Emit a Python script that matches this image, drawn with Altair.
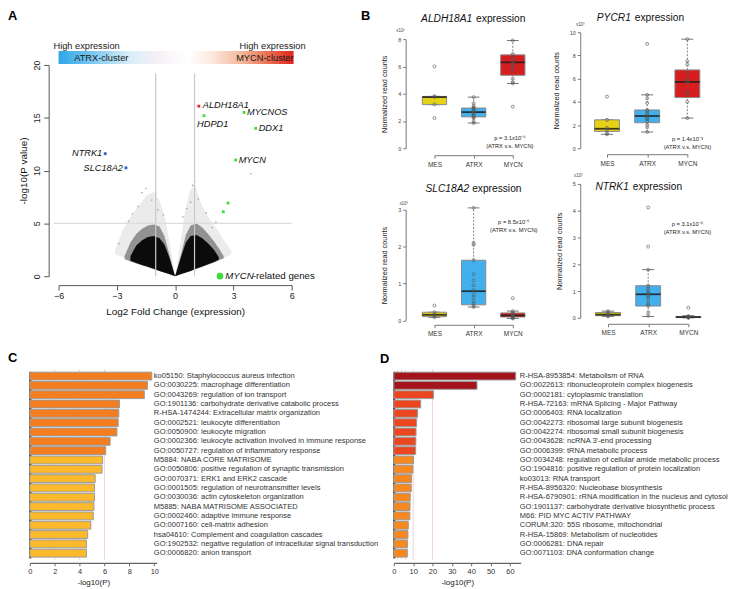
import altair as alt
import pandas as pd

FONT = "Liberation Sans"
W, H = 721, 573

# ======================= Panel A : volcano plot =======================
gene_name = ["ALDH18A1", "HDPD1", "MYCNOS", "DDX1", "MYCN", "NTRK1", "SLC18A2", "", ""]
gene_lfc = [1.22, 1.49, 3.55, 4.15, 3.12, -3.60, -2.53, 2.72, 2.48]
gene_logp = [16.1, 15.2, 15.5, 14.0, 11.0, 11.6, 10.26, 6.92, 6.10]
gene_group = ["top", "mycn", "mycn", "mycn", "mycn", "atrx", "atrx", "mycn", "mycn"]

sparse_lfc = [-2.9, -2.4, -1.9, -1.7, -1.5, -1.2, -0.9, -0.6, 0.6, 0.9, 1.0, 1.2, 1.6, 2.1, 3.9,
              -2.2, -1.0, 0.4, 0.8, 1.9]
sparse_logp = [3.1, 5.2, 6.6, 7.9, 8.3, 7.2, 6.3, 5.8, 6.4, 8.6, 9.0, 7.3, 6.0, 5.1, 9.7,
               5.9, 7.8, 5.6, 7.0, 4.6]

# outline of the dense point cloud, three density levels
halo_l_x = [-3.1, -2.7, -2.3, -1.9, -1.5, -1.1, -0.8, -0.5, -0.25, 0.0]
halo_l_hi = [2.4, 4.4, 5.6, 6.6, 7.6, 8.0, 7.2, 5.4, 2.8, 0.0]
halo_l_lo = [2.1, 1.8, 1.5, 1.2, 0.95, 0.7, 0.5, 0.3, 0.15, 0.0]
halo_r_x = [0.0, 0.25, 0.5, 0.75, 1.0, 1.3, 1.7, 2.1, 2.5, 2.9]
halo_r_hi = [0.0, 2.8, 6.0, 8.0, 8.8, 7.0, 5.6, 4.6, 3.4, 2.4]
halo_r_lo = [0.0, 0.12, 0.28, 0.45, 0.6, 0.8, 1.05, 1.35, 1.7, 2.1]

mid_l_x = [-2.6, -2.3, -2.0, -1.7, -1.4, -1.1, -0.8, -0.55, -0.3, 0.0]
mid_l_hi = [1.9, 3.2, 4.0, 4.5, 4.8, 4.9, 4.7, 3.8, 2.1, 0.0]
mid_l_lo = [1.6, 1.4, 1.2, 1.0, 0.85, 0.65, 0.48, 0.33, 0.18, 0.0]
mid_r_x = [0.0, 0.3, 0.55, 0.8, 1.1, 1.4, 1.7, 2.0, 2.3, 2.5]
mid_r_hi = [0.0, 2.0, 3.9, 4.8, 5.0, 4.6, 4.0, 3.3, 2.5, 1.9]
mid_r_lo = [0.0, 0.18, 0.33, 0.5, 0.7, 0.9, 1.1, 1.3, 1.55, 1.7]

core_l_x = [-2.3, -2.0, -1.7, -1.4, -1.1, -0.8, -0.55, -0.3, 0.0]
core_l_hi = [1.9, 2.9, 3.4, 3.7, 3.8, 3.6, 3.0, 1.8, 0.0]
core_l_lo = [1.45, 1.25, 1.05, 0.9, 0.7, 0.5, 0.35, 0.2, 0.0]
core_r_x = [0.0, 0.3, 0.55, 0.8, 1.1, 1.4, 1.7, 2.0, 2.25]
core_r_hi = [0.0, 1.8, 3.2, 3.8, 3.9, 3.6, 3.1, 2.5, 1.8]
core_r_lo = [0.0, 0.2, 0.35, 0.5, 0.72, 0.92, 1.12, 1.35, 1.55]

fc_cut = [-1, 1]
p_cut = [5]

# ======================= Panel B : box plots =======================
groups = ["MES", "ATRX", "MYCN"]

aldh_pts = {"MES": [6.0, 3.82, 3.76, 3.22, 2.22],
            "ATRX": [3.75, 3.3, 3.1, 3.0, 2.95, 2.85, 2.75, 2.65, 2.55, 2.45, 2.35, 2.28, 2.2, 1.95, 1.85],
            "MYCN": [7.9, 6.9, 6.7, 6.5, 6.35, 6.2, 6.05, 5.9, 5.7, 5.1, 4.85, 4.75, 3.05]}
aldh_box = {"MES": [3.2, 3.2, 3.75, 3.8, 3.8], "ATRX": [1.85, 2.3, 2.65, 2.95, 3.75],
            "MYCN": [4.75, 5.35, 6.3, 6.85, 7.9]}

pycr_pts = {"MES": [4.45, 2.45, 1.75, 1.6, 1.3, 1.2],
            "ATRX": [9.0, 4.6, 4.3, 3.9, 3.3, 3.2, 3.0, 2.85, 2.7, 2.6, 2.5, 2.3, 2.0, 1.8, 1.4],
            "MYCN": [9.4, 7.5, 7.2, 6.5, 6.0, 5.8, 5.7, 4.8, 4.7, 4.0, 2.6]}
pycr_box = {"MES": [1.2, 1.45, 1.68, 2.45, 2.45], "ATRX": [1.4, 2.2, 2.78, 3.3, 4.6],
            "MYCN": [2.6, 4.37, 5.72, 6.75, 9.4]}

slc_pts = {"MES": [0.4, 0.22, 0.16, 0.12, 0.08],
           "ATRX": [3.05, 2.1, 2.05, 1.63, 1.25, 1.08, 0.95, 0.82, 0.7, 0.62, 0.52, 0.45, 0.4, 0.36],
           "MYCN": [0.6, 0.25, 0.2, 0.18, 0.15, 0.12, 0.1, 0.08, 0.06, 0.05]}
slc_box = {"MES": [0.08, 0.1, 0.15, 0.22, 0.22], "ATRX": [0.36, 0.42, 0.79, 1.63, 3.05],
           "MYCN": [0.05, 0.09, 0.13, 0.2, 0.25]}

ntrk_pts = {"MES": [0.25, 0.18, 0.12, 0.08, 0.05],
            "ATRX": [4.12, 2.66, 1.8, 1.2, 1.1, 1.02, 0.95, 0.9, 0.82, 0.75, 0.62, 0.5, 0.45, 0.2, 0.08],
            "MYCN": [0.38, 0.06, 0.05, 0.04, 0.03, 0.03, 0.02, 0.02, 0.01, 0.01]}
ntrk_box = {"MES": [0.05, 0.08, 0.12, 0.2, 0.25], "ATRX": [0.05, 0.44, 0.88, 1.2, 1.8],
            "MYCN": [0.0, 0.01, 0.03, 0.05, 0.08]}

# ======================= Panels C / D : enrichment bars =======================
c_terms = ["ko05150: Staphylococcus aureus infection",
           "GO:0030225: macrophage differentiation",
           "GO:0043269: regulation of ion transport",
           "GO:1901136: carbohydrate derivative catabolic process",
           "R-HSA-1474244: Extracellular matrix organization",
           "GO:0002521: leukocyte differentiation",
           "GO:0050900: leukocyte migration",
           "GO:0002366: leukocyte activation involved in immune response",
           "GO:0050727: regulation of inflammatory response",
           "M5884: NABA CORE MATRISOME",
           "GO:0050806: positive regulation of synaptic transmission",
           "GO:0070371: ERK1 and ERK2 cascade",
           "GO:0001505: regulation of neurotransmitter levels",
           "GO:0030036: actin cytoskeleton organization",
           "M5885: NABA MATRISOME ASSOCIATED",
           "GO:0002460: adaptive immune response",
           "GO:0007160: cell-matrix adhesion",
           "hsa04610: Complement and coagulation cascades",
           "GO:1902532: negative regulation of intracellular signal transduction",
           "GO:0006820: anion transport"]
c_vals = [9.8, 9.45, 9.2, 7.2, 7.15, 7.1, 7.0, 6.45, 6.1, 5.85, 5.8, 5.25, 5.2, 5.2, 5.15, 5.1, 4.9, 4.65, 4.55, 4.55]
c_tier = [1] * 9 + [2] * 11

d_terms = ["R-HSA-8953854: Metabolism of RNA",
           "GO:0022613: ribonucleoprotein complex biogenesis",
           "GO:0002181: cytoplasmic translation",
           "R-HSA-72163: mRNA Splicing - Major Pathway",
           "GO:0006403: RNA localization",
           "GO:0042273: ribosomal large subunit biogenesis",
           "GO:0042274: ribosomal small subunit biogenesis",
           "GO:0043628: ncRNA 3'-end processing",
           "GO:0006399: tRNA metabolic process",
           "GO:0034248: regulation of cellular amide metabolic process",
           "GO:1904816: positive regulation of protein localization",
           "ko03013: RNA transport",
           "R-HSA-8956320: Nucleobase biosynthesis",
           "R-HSA-6790901: rRNA modification in the nucleus and cytosol",
           "GO:1901137: carbohydrate derivative biosynthetic process",
           "M66: PID MYC ACTIV PATHWAY",
           "CORUM:320: 55S ribosome, mitochondrial",
           "R-HSA-15869: Metabolism of nucleotides",
           "GO:0006281: DNA repair",
           "GO:0071103: DNA conformation change"]
d_vals = [63.0, 43.0, 20.5, 13.9, 12.3, 11.8, 11.5, 11.4, 11.3, 10.2, 9.9, 9.2, 9.0, 8.5, 8.4, 8.3, 7.5, 7.3, 7.1, 7.0]
d_tier = [0] * 2 + [1] * 7 + [2] * 11

# ======================= styles =======================
gene_colors = {"top": "#E8262B", "mycn": "#3EDB3E", "atrx": "#2F5FD0"}
box_colors = {"MES": "#E5D116", "ATRX": "#42B0EC", "MYCN": "#D61E1E"}
c_colors = {1: "#F47E1F", 2: "#FBB92B"}
d_colors = {0: "#A3141C", 1: "#EC4620", 2: "#F7881F"}
label_style = {"ALDH18A1": (4, -1, "left"), "HDPD1": (-7, 8, "left"), "MYCNOS": (3, 0, "left"),
               "DDX1": (3, 0, "left"), "MYCN": (3, 0, "left"), "NTRK1": (-3, -1, "right"),
               "SLC18A2": (-3, 0, "right")}


def txt(text, x, y, size, align="left", baseline="middle", style="normal", weight="normal", color="#222"):
    return alt.Chart(pd.DataFrame({"t": [text]})).mark_text(
        align=align, baseline=baseline, fontSize=size, fontStyle=style, fontWeight=weight,
        color=color, font=FONT).encode(text="t:N", x=alt.value(x), y=alt.value(y))


# ---------------- build panel A ----------------
xA = alt.Scale(domain=[-6, 6], range=[50, 285], nice=False, zero=False)
yA = alt.Scale(domain=[0, 20], range=[268, 55], nice=False, zero=False)
axA_x = alt.Axis(orient="bottom", offset=-296, values=[-6, -3, 0, 3, 6], title="Log2 Fold Change (expression)",
                 tickSize=5, labelFontSize=9, labelPadding=2, titleFontSize=10, titleFontWeight="normal",
                 titlePadding=6, domainColor="#555", tickColor="#555", labelColor="#222", titleColor="#111",
                 grid=False)
axA_y = alt.Axis(orient="left", offset=-40, values=[0, 5, 10, 15, 20], title="-log10(P value)",
                 labelAngle=-90, labelAlign="center", labelBaseline="bottom", tickSize=5, labelFontSize=9,
                 labelPadding=2, titleFontSize=10, titleFontWeight="normal", titlePadding=4,
                 domainColor="#555", tickColor="#555", labelColor="#222", titleColor="#111", grid=False)


def XA(f):
    return alt.X(f, type="quantitative", scale=xA, axis=axA_x, stack=None)


def YA(f):
    return alt.Y(f, type="quantitative", scale=yA, axis=axA_y, stack=None)


a_layers = []
for xs_, hi_, lo_, col, op in [
        (halo_l_x, halo_l_hi, halo_l_lo, "#9a9a9a", 0.2), (halo_r_x, halo_r_hi, halo_r_lo, "#9a9a9a", 0.2),
        (mid_l_x, mid_l_hi, mid_l_lo, "#3a3a3a", 0.5), (mid_r_x, mid_r_hi, mid_r_lo, "#3a3a3a", 0.5),
        (core_l_x, core_l_hi, core_l_lo, "#000000", 0.92), (core_r_x, core_r_hi, core_r_lo, "#000000", 0.92)]:
    dfw = pd.DataFrame({"x": xs_, "hi": hi_, "lo": lo_})
    a_layers.append(alt.Chart(dfw).mark_area(color=col, opacity=op, orient="vertical").encode(
        x=XA("x"), y=YA("hi"), y2="lo"))
a_layers.append(alt.Chart(pd.DataFrame({"x": sparse_lfc, "y": sparse_logp})).mark_square(
    size=2, color="#777", opacity=0.6).encode(x=XA("x"), y=YA("y")))
a_layers.append(alt.Chart(pd.DataFrame({"x": fc_cut, "y0": [0, 0], "y1": [19.2, 19.2]})).mark_rule(
    color="#c9c9c9", strokeWidth=1.2).encode(x=XA("x"), y=YA("y0"), y2="y1"))
a_layers.append(alt.Chart(pd.DataFrame({"y": p_cut, "x0": [-6.26], "x1": [6.0]})).mark_rule(
    color="#dcdcdc", strokeWidth=1.5).encode(y=YA("y"), x=XA("x0"), x2="x1"))

grad = alt.LinearGradient(gradient="linear", x1=0, x2=1, y1=0, y2=0, stops=[
    alt.GradientStop(color="#2FA6E6", offset=0.0),
    alt.GradientStop(color="#6FC1EE", offset=0.12),
    alt.GradientStop(color="#D8EDF8", offset=0.30),
    alt.GradientStop(color="#F7F0F6", offset=0.42),
    alt.GradientStop(color="#FFFFFF", offset=0.55),
    alt.GradientStop(color="#FCE9DF", offset=0.65),
    alt.GradientStop(color="#F3B79A", offset=0.78),
    alt.GradientStop(color="#E86A4A", offset=0.90),
    alt.GradientStop(color="#E2231F", offset=1.0)])
a_layers.append(alt.Chart(pd.DataFrame({"x0": [-6.0], "x1": [6.1]})).mark_rect(fill=grad).encode(
    x=XA("x0"), x2="x1", y=alt.value(41), y2=alt.value(54)))
for t, xx, al, yy in [("High expression", -6.26, "left", 36), ("High expression", 6.72, "right", 36),
                      ("ATRX-cluster", -3.8, "center", 48), ("MYCN-cluster", 4.62, "center", 48)]:
    a_layers.append(alt.Chart(pd.DataFrame({"x": [xx], "t": [t]})).mark_text(
        align=al, baseline="middle", fontSize=9.3, color="#1a1a1a", font=FONT).encode(
        x=XA("x"), y=alt.value(yy), text="t:N"))

gdf = pd.DataFrame({"x": gene_lfc, "y": gene_logp, "name": gene_name,
                    "col": [gene_colors[g] for g in gene_group]})
a_layers.append(alt.Chart(gdf).mark_square(size=8, opacity=1).encode(
    x=XA("x"), y=YA("y"), fill=alt.Fill("col:N", scale=None), color=alt.Color("col:N", scale=None)))
for name, (dx, dy, al) in label_style.items():
    sub = gdf[gdf["name"] == name]
    a_layers.append(alt.Chart(sub).mark_text(align=al, baseline="middle", dx=dx, dy=dy, fontSize=9.3,
                                             fontStyle="italic", color="#111", font=FONT).encode(
        x=XA("x"), y=YA("y"), text="name:N"))
legend_x = [2.31]
legend_y = [0.0]
a_layers.append(alt.Chart(pd.DataFrame({"x": legend_x, "y": legend_y})).mark_circle(
    size=45, color="#3EDB3E", opacity=1).encode(x=XA("x"), y=YA("y")))
a_layers.append(alt.Chart(pd.DataFrame({"x": [2.58], "y": [0.0], "t": ["MYCN"]})).mark_text(
    align="left", baseline="middle", fontSize=9.8, fontStyle="italic", color="#111", font=FONT).encode(
    x=XA("x"), y=YA("y"), text="t:N"))
a_layers.append(alt.Chart(pd.DataFrame({"x": [4.0], "y": [0.0], "t": ["-related genes"]})).mark_text(
    align="left", baseline="middle", fontSize=9.8, color="#111", font=FONT).encode(
    x=XA("x"), y=YA("y"), text="t:N"))
a_layers.append(txt("A", -1, 0, 13, baseline="top", weight="bold", color="#000"))
panelA = alt.layer(*a_layers)


# ---------------- build panel B ----------------
BW, CW = 0.31, 0.15
label_expr = "[" + ",".join("'%s'" % g for g in groups) + "][datum.value]"


def box_panel(pts, box, xrange, yrange, ydom, yticks, yoff, xoff, gene, gx, ex, ty, pval, px, py, mult, mx, my):
    xs = alt.Scale(domain=[0, 2], range=xrange, nice=False, zero=False)
    ys = alt.Scale(domain=ydom, range=yrange, nice=False, zero=False)
    ax_x = alt.Axis(orient="bottom", offset=xoff, values=[0, 1, 2], labelExpr=label_expr, title=None,
                    tickSize=3, labelFontSize=6.5, labelPadding=3, domainColor="#777", tickColor="#777",
                    labelColor="#333", grid=False)
    ax_y = alt.Axis(orient="left", offset=yoff, values=yticks, title="Normalized read counts",
                    tickSize=3, labelFontSize=5.5, labelPadding=2, titleFontSize=7.4, titleFontWeight="normal",
                    titlePadding=9, domainColor="#777", tickColor="#777", labelColor="#444", titleColor="#222",
                    grid=False)

    def X(f):
        return alt.X(f, type="quantitative", scale=xs, axis=ax_x, stack=None)

    def Y(f):
        return alt.Y(f, type="quantitative", scale=ys, axis=ax_y, stack=None)

    rows = []
    for i, g in enumerate(groups):
        lo, q1, md, q3, hi = box[g]
        rows.append(dict(i=i, x0=i - BW, x1=i + BW, c0=i - CW, c1=i + CW, lo=lo, q1=q1, med=md, q3=q3,
                         hi=hi, fill=box_colors[g]))
    dfb = pd.DataFrame(rows)
    dfp = pd.DataFrame([dict(i=i, v=v) for i, g in enumerate(groups) for v in pts[g]])
    bb = alt.Chart(dfb)
    layers = [
        bb.mark_rule(color="#666", strokeDash=[2, 1.5], strokeWidth=0.8).encode(x=X("i"), y=Y("q3"), y2="hi"),
        bb.mark_rule(color="#666", strokeDash=[2, 1.5], strokeWidth=0.8).encode(x=X("i"), y=Y("lo"), y2="q1"),
        bb.mark_rule(color="#666", strokeWidth=0.9).encode(x=X("c0"), x2="c1", y=Y("hi")),
        bb.mark_rule(color="#666", strokeWidth=0.9).encode(x=X("c0"), x2="c1", y=Y("lo")),
        bb.mark_rect(stroke="#8a8a8a", strokeWidth=1).encode(x=X("x0"), x2="x1", y=Y("q1"), y2="q3",
                                                            fill=alt.Fill("fill:N", scale=None)),
        bb.mark_rule(color="#1e1e1e", strokeWidth=1.8, opacity=0.85).encode(x=X("x0"), x2="x1", y=Y("med")),
        alt.Chart(dfp).mark_point(shape="circle", filled=False, size=9, color="#555", strokeWidth=0.7,
                                  opacity=0.9).encode(x=X("i"), y=Y("v")),
        txt(gene, gx, ty, 10.3, align="right", style="italic", color="#111"),
        txt("expression", ex, ty, 10.3, align="left", color="#111"),
        txt(pval, px, py, 5.8, align="center", color="#222"),
        txt("(ATRX v.s. MYCN)", px, py + 8, 5.8, align="center", color="#222"),
        txt(mult, mx, my, 4.5, align="center", color="#444"),
    ]
    return alt.layer(*layers)


B1 = box_panel(aldh_pts, aldh_box, [429, 508], [139, 29], [0, 8], [0, 2, 4, 6, 8], -400, -427,
               "ALDH18A1", 467, 471, 9, "p = 3.1x10\u207b\u2076", 505, 129, "x10\u2074", 395, 21)
B2 = box_panel(pycr_pts, pycr_box, [603, 684], [139, 22], [0, 10], [0, 2, 4, 6, 8, 10], -576, -428,
               "PYCR1", 627, 631, 8, "p = 1.4x10\u207b\u00b3", 684, 130, "x10\u00b3", 576, 15)
B3 = box_panel(slc_pts, slc_box, [429, 508], [312.5, 201], [0, 3], [0, 1, 2, 3], -400, -256,
               "SLC18A2", 464, 467, 180, "p = 8.5x10\u207b\u2076", 509, 213, "x10\u00b3", 398, 195)
B4 = box_panel(ntrk_pts, ntrk_box, [604, 685], [310, 175], [0, 5], [0, 1, 2, 3, 4, 5], -576, -257,
               "NTRK1", 625, 629, 178, "p = 3.1x10\u207b\u2076", 684, 215, "x10\u00b3", 574, 167)
letterB = txt("B", 355, 0, 13, baseline="top", weight="bold", color="#000")


# ---------------- build panels C / D ----------------
def bar_panel(terms, vals, tiers, colors, xdom, xrange, ticks, grid, yoff, label_x, letter, lx, ly):
    xs = alt.Scale(domain=xdom, range=xrange, nice=False, zero=False)
    ys = alt.Scale(domain=[-0.5, 19.5], range=[364, 552], nice=False, zero=False)
    ax_x = alt.Axis(orient="bottom", offset=-16, values=ticks, title="-log10(P)", tickSize=3,
                    labelFontSize=7.5, labelPadding=2, titleFontSize=8, titleFontWeight="normal",
                    titlePadding=3, domainColor="#666", domainWidth=1.3, tickColor="#666",
                    labelColor="#333", titleColor="#222", grid=False)
    ax_y = alt.Axis(orient="left", offset=yoff, labels=False, ticks=False, title=None,
                    domainColor="#111", domainWidth=2, grid=False)

    def X(f):
        return alt.X(f, type="quantitative", scale=xs, axis=ax_x, stack=None)

    def Y(f):
        return alt.Y(f, type="quantitative", scale=ys, axis=ax_y, stack=None)

    df = pd.DataFrame({"r": list(range(len(terms))), "term": terms, "v": vals,
                       "col": [colors[t] for t in tiers]})
    df["x0"] = 0.0
    df["r0"] = df["r"] - 0.42
    df["r1"] = df["r"] + 0.42
    gdf = pd.DataFrame({"g": grid})
    layers = [
        alt.Chart(gdf).mark_rule(color="#F2D2DA", strokeWidth=1).encode(x=X("g"), y=alt.value(362), y2=alt.value(554)),
        alt.Chart(df).mark_rect(stroke="#9a9a9a", strokeWidth=1).encode(
            x=X("x0"), x2="v", y=Y("r0"), y2="r1", fill=alt.Fill("col:N", scale=None)),
        alt.Chart(df).mark_text(align="left", baseline="middle", fontSize=7.6, color="#333", font=FONT).encode(
            x=alt.value(label_x), y=Y("r"), text="term:N"),
        txt(letter, lx, ly, 13, baseline="top", weight="bold", color="#000"),
    ]
    return alt.layer(*layers)


c_grid = [2, 4, 6]
d_grid = [2, 4, 6, 10, 20]
panelC = bar_panel(c_terms, c_vals, c_tier, c_colors, [0, 10.2], [21, 149], [0, 2, 4, 6, 8, 10], c_grid,
                   -21, 146, "C", -1, 345)
panelD = bar_panel(d_terms, d_vals, d_tier, d_colors, [0, 65.6], [388, 516], [0, 10, 20, 30, 40, 50, 60],
                   d_grid, -388, 515, "D", 374, 346)

chart = alt.layer(panelA, B1, B2, B3, B4, letterB, panelC, panelD).resolve_scale(
    x="independent", y="independent").resolve_axis(x="independent", y="independent").properties(
    width=W, height=H, padding=0)
chart = chart.configure(font=FONT).configure_view(stroke=None).configure_axis(
    grid=False, labelFlush=False, labelOverlap=False, minExtent=0, labelFont=FONT, titleFont=FONT)

chart.save("out.html", embed_options={"renderer": "svg", "actions": False})
